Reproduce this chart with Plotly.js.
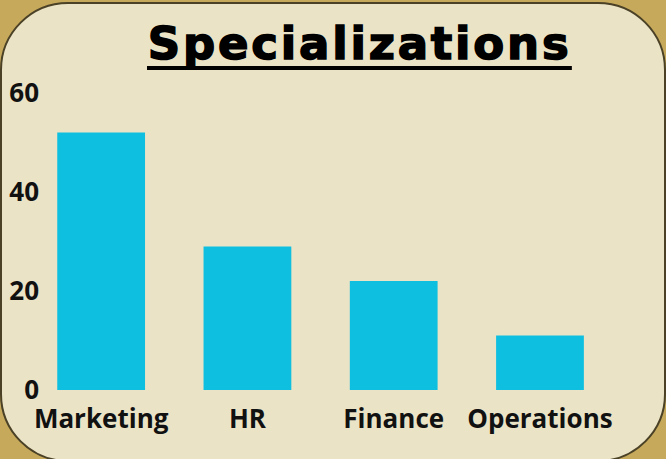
<!DOCTYPE html>
<html>
<head>
<meta charset="utf-8">
<script src="https://cdn.plot.ly/plotly-3.0.1.min.js"></script>
<style>
html,body{margin:0;padding:0;}
#wrap{position:relative;width:666px;height:459px;background:#c6a95b;overflow:hidden;}
#card{position:absolute;left:0px;top:2px;width:662px;height:456px;background:#ebe3c6;border:2px solid #4a4126;border-radius:68px;}
#chart{position:absolute;left:0;top:0;width:666px;height:459px;}
</style>
</head>
<body>
<div id="wrap"><div id="card"></div><div id="chart"></div></div>
<script>
const categories = ["Marketing", "HR", "Finance", "Operations"];
const counts = [52, 29, 22, 11];
const yTicks = [0, 20, 40, 60];

const data = [{
  type: 'bar',
  x: categories,
  y: counts,
  marker: {color: '#0ebfdf'},
  hoverinfo: 'skip'
}];

const layout = {
  width: 666, height: 459,
  paper_bgcolor: 'rgba(0,0,0,0)',
  plot_bgcolor: 'rgba(0,0,0,0)',
  margin: {l: 40, r: 46, t: 93, b: 69},
  bargap: 0.4,
  showlegend: false,
  title: {
    text: '<span style="letter-spacing:2.8px;stroke:#000;stroke-width:1.5px">Specializations</span>',
    font: {family: 'DejaVu Sans', size: 45, color: '#000', weight: 'bold'},
    x: 0.54, xref: 'container', xanchor: 'center',
    y: 0.872, yref: 'container', yanchor: 'bottom'
  },
  shapes: [{
    type: 'line', xref: 'paper', yref: 'paper',
    x0: 0.1845, x1: 0.917, y0: 1.084, y1: 1.084,
    line: {color: '#000', width: 4}
  }],
  xaxis: {
    range: [-0.418, 3.547],
    showgrid: false, zeroline: false, showline: false,
    tickfont: {family: 'Open Sans', size: 26, color: '#111', weight: 'bold'},
    ticks: '',
    ticklabelstandoff: 11
  },
  yaxis: {
    range: [0, 60],
    tickvals: yTicks,
    showgrid: false, zeroline: false, showline: false,
    tickfont: {family: 'Open Sans', size: 26, color: '#111', weight: 'bold'},
    ticks: ''
  }
};

Plotly.newPlot('chart', data, layout, {displayModeBar: false, staticPlot: true});
</script>
</body>
</html>
